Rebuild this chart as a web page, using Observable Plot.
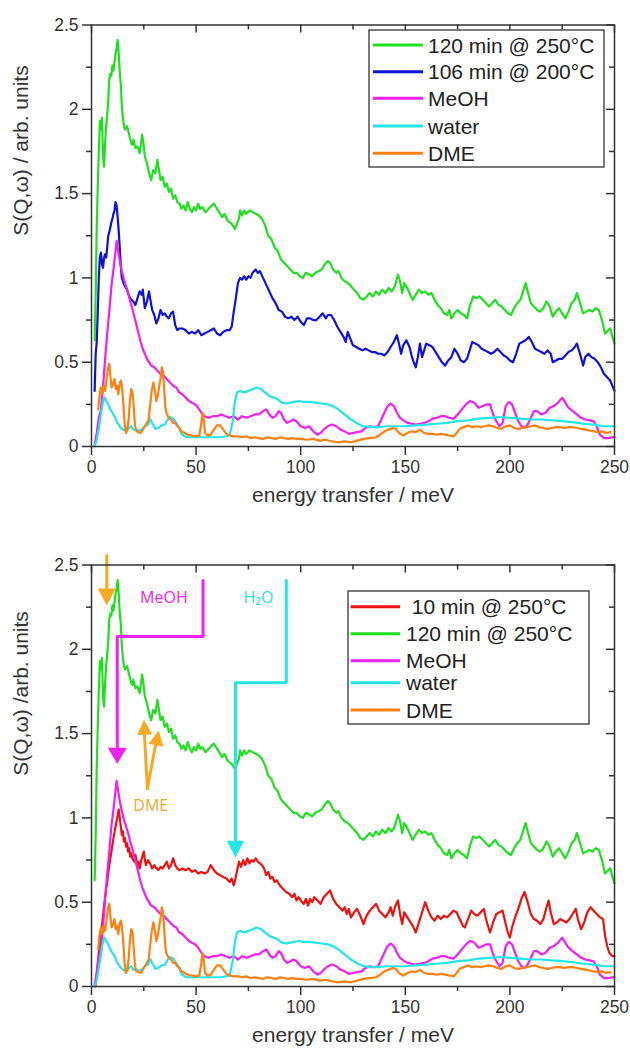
<!DOCTYPE html>
<html><head><meta charset="utf-8">
<script src="https://cdn.jsdelivr.net/npm/d3@7"></script>
<script src="https://cdn.jsdelivr.net/npm/@observablehq/plot@0.6"></script>
<style>
html,body{margin:0;padding:0;background:#fff;}
#chart svg{display:block;}
</style></head><body><div id="chart"></div>
<script>
// ---------- data: [energy transfer (meV), S(Q,w)] ----------
const green120 = [[1.5,0.63],[2,0.9],[2.5,1.3],[3,1.55],[3.5,1.75],[4,1.93],[4.5,1.88],[5,1.95],[5.5,1.72],[6,1.66],[6.5,1.8],[7,1.9],[7.5,1.97],[8,2.05],[8.5,2.18],[9,2.21],[9.5,2.2],[10,2.26],[10.5,2.23],[11,2.28],[11.5,2.33],[12,2.36],[12.5,2.41],[13,2.33],[13.5,2.22],[14,2.15],[14.5,2.02],[15,1.95],[15.5,1.9],[16,1.88],[17,1.9],[18,1.85],[19,1.8],[19.5,1.79],[20,1.82],[21,1.77],[22,1.78],[23,1.74],[23.5,1.78],[24.2,1.85],[24.8,1.8],[25.5,1.72],[26.5,1.68],[27.5,1.62],[28.5,1.58],[29.5,1.64],[30.5,1.62],[31.5,1.7],[32,1.66],[33,1.58],[34,1.6],[35,1.54],[36,1.56],[37,1.51],[38,1.53],[39,1.47],[40,1.49],[41,1.45],[42,1.44],[43,1.41],[44,1.43],[45,1.4],[46,1.45],[47,1.41],[48,1.39],[49,1.42],[50,1.4],[51,1.44],[52,1.41],[53,1.42],[54.5,1.39],[56,1.41],[57.5,1.43],[58.5,1.44],[60,1.41],[61,1.39],[62.5,1.36],[63.5,1.38],[65,1.34],[66,1.33],[67,1.32],[68.5,1.29],[69.5,1.32],[70.5,1.35],[71,1.4],[72,1.37],[73,1.4],[74,1.38],[75.5,1.4],[77,1.39],[78.5,1.38],[80,1.37],[81.5,1.35],[83,1.31],[84.5,1.25],[86,1.23],[87.5,1.18],[89,1.16],[90.5,1.11],[92,1.09],[93.5,1.07],[95,1.05],[96.5,1.03],[98,1.03],[99.5,1.01],[101,1.0],[102.5,1.03],[104,1.02],[105.5,1.01],[107,1.03],[108.5,1.04],[110,1.05],[111.5,1.08],[113,1.1],[114,1.09],[115.5,1.05],[117,1.03],[118,1.04],[119.5,1.0],[121,0.98],[122.5,0.97],[124,0.95],[125.5,0.93],[127,0.91],[128.5,0.88],[130,0.87],[131.5,0.89],[133,0.91],[134.5,0.89],[136,0.92],[137.5,0.9],[139,0.93],[140.5,0.91],[142,0.94],[143.5,0.92],[145,0.95],[146.5,1.02],[147.5,0.98],[148.5,0.91],[149.5,0.97],[150.5,0.95],[152,0.91],[153.5,0.87],[155,0.9],[156.5,0.93],[158,0.91],[159.5,0.92],[161,0.9],[162.5,0.91],[164,0.87],[165.5,0.84],[167,0.82],[168.5,0.79],[170,0.78],[171,0.81],[172,0.76],[173.5,0.79],[175,0.81],[176.5,0.79],[178,0.78],[179.5,0.76],[181,0.84],[182.5,0.89],[184,0.88],[185.5,0.89],[187,0.87],[188.5,0.85],[190,0.83],[191.5,0.85],[193,0.87],[194.5,0.84],[196,0.83],[197.5,0.81],[199,0.79],[200.5,0.78],[202,0.82],[203.5,0.85],[205,0.87],[206.5,0.93],[207.5,0.97],[208.5,0.92],[210,0.85],[211.5,0.83],[213,0.81],[214.5,0.8],[216,0.82],[217.5,0.86],[219,0.83],[220.5,0.77],[222,0.8],[223.5,0.82],[225,0.79],[226.5,0.76],[228,0.8],[229.5,0.85],[231,0.87],[232,0.91],[233.5,0.85],[235,0.79],[236.5,0.8],[238,0.81],[239.5,0.8],[241,0.82],[242.5,0.81],[244,0.75],[245.5,0.67],[247,0.69],[248,0.7],[249,0.65],[250,0.61]];

const blue106 = [[1.5,0.33],[2,0.55],[2.5,0.62],[3,0.8],[3.5,1.0],[4,1.12],[4.5,1.15],[5,1.08],[5.5,1.06],[6,1.12],[6.5,1.14],[7,1.12],[7.5,1.18],[8,1.25],[8.5,1.27],[9,1.3],[9.5,1.33],[10,1.35],[10.5,1.38],[11,1.4],[11.5,1.45],[12,1.43],[12.5,1.36],[13,1.28],[13.5,1.18],[14,1.07],[14.5,1.0],[15,0.98],[16,0.95],[17,0.93],[18,0.89],[19,0.87],[20,0.86],[21,0.84],[22,0.88],[23,0.92],[24,0.9],[24.5,0.93],[25.5,0.82],[26.5,0.86],[27.5,0.92],[28,0.88],[29,0.81],[30,0.78],[31,0.73],[32,0.76],[33,0.81],[34,0.78],[35,0.79],[36,0.77],[37,0.76],[38,0.79],[39,0.8],[40,0.72],[41,0.69],[42,0.7],[43.5,0.7],[45,0.69],[46.5,0.67],[48,0.68],[49.5,0.67],[51,0.69],[52.5,0.66],[54,0.67],[55.5,0.68],[57,0.69],[58.5,0.7],[60,0.67],[61.5,0.66],[63,0.68],[64.5,0.69],[66,0.69],[67,0.71],[68,0.8],[69,0.88],[70,0.97],[71,1.0],[72,0.99],[73,1.01],[74,0.99],[75,1.01],[76,1.0],[77,1.03],[78.5,1.05],[79.5,1.03],[80.5,1.04],[82,1.0],[83.5,0.96],[85,0.92],[86.5,0.88],[88,0.85],[89.5,0.81],[91,0.8],[92.5,0.77],[94,0.76],[95.5,0.77],[97,0.75],[98.5,0.77],[100,0.74],[101.5,0.72],[103,0.76],[104.5,0.76],[106,0.75],[107.5,0.75],[109,0.77],[110.5,0.79],[112,0.76],[113,0.78],[114.5,0.78],[116,0.75],[117.5,0.71],[119,0.68],[120.5,0.65],[121.5,0.62],[122.5,0.68],[124,0.63],[125,0.6],[126.5,0.59],[128,0.58],[129.5,0.57],[131,0.58],[132.5,0.57],[134,0.56],[135.5,0.56],[137,0.55],[138.5,0.55],[140,0.54],[141.5,0.56],[143,0.59],[144.5,0.62],[146,0.66],[147,0.61],[148,0.55],[149,0.6],[150.5,0.63],[152,0.59],[153,0.54],[154,0.5],[155,0.47],[156,0.53],[157,0.61],[158,0.53],[159,0.57],[160,0.61],[161.5,0.6],[163,0.59],[164.5,0.56],[166,0.53],[167.5,0.5],[169,0.48],[170.5,0.51],[172,0.53],[173.5,0.58],[175,0.55],[176.5,0.51],[178,0.5],[179.5,0.52],[181,0.58],[182,0.62],[183.5,0.61],[185,0.6],[186.5,0.58],[188,0.57],[189.5,0.56],[191,0.55],[192.5,0.56],[194,0.58],[195.5,0.56],[197,0.54],[198.5,0.53],[200,0.51],[201.5,0.5],[203,0.55],[204.5,0.61],[206,0.62],[207.5,0.63],[209,0.65],[210.5,0.62],[212,0.58],[213.5,0.57],[215,0.56],[216.5,0.55],[218,0.57],[219.5,0.55],[220.5,0.5],[222,0.51],[223.5,0.52],[225,0.52],[226.5,0.54],[228,0.56],[229.5,0.57],[231,0.59],[232,0.61],[233.5,0.55],[235,0.48],[236,0.53],[237.5,0.55],[239,0.53],[240.5,0.52],[242,0.5],[243.5,0.47],[245,0.43],[246.5,0.41],[248,0.39],[249,0.36],[250,0.33]];

const red10 = [[1.8,0.0],[2.5,0.08],[3.5,0.2],[4.5,0.3],[5.5,0.42],[6.5,0.53],[7.5,0.62],[8.5,0.72],[9.5,0.8],[10.5,0.88],[11.5,0.95],[12.3,1.0],[13,1.05],[13.5,1.0],[14,0.95],[14.5,0.9],[15,0.92],[15.5,0.86],[16,0.88],[16.5,0.83],[17,0.85],[17.5,0.8],[18,0.82],[18.5,0.77],[19,0.79],[19.5,0.76],[20.5,0.74],[21,0.78],[21.5,0.74],[22,0.71],[22.5,0.74],[23,0.7],[24,0.76],[25,0.8],[25.5,0.75],[26,0.72],[27,0.75],[28,0.73],[29,0.7],[30,0.72],[31,0.7],[32,0.69],[33,0.71],[34,0.7],[35,0.72],[36,0.74],[37,0.7],[38,0.72],[39,0.76],[40,0.72],[41,0.7],[42,0.69],[43.5,0.7],[45,0.69],[46.5,0.7],[48,0.68],[49.5,0.69],[51,0.67],[52.5,0.68],[54,0.67],[55.5,0.68],[57,0.72],[58.5,0.69],[60,0.67],[61.5,0.66],[63,0.65],[64.5,0.64],[66,0.62],[67,0.64],[68,0.6],[68.8,0.64],[69.5,0.68],[70.5,0.74],[71.5,0.71],[72.5,0.75],[73.5,0.72],[74.5,0.76],[75.5,0.73],[76.5,0.75],[77.5,0.74],[78.5,0.76],[79.5,0.74],[80.5,0.73],[81.5,0.72],[82.5,0.7],[83.5,0.66],[84.5,0.68],[85.5,0.64],[86.5,0.65],[87.5,0.62],[88.5,0.63],[90,0.6],[91.5,0.58],[93,0.56],[94.5,0.55],[96,0.53],[97,0.55],[98,0.51],[99,0.53],[100,0.51],[101.5,0.49],[102.5,0.52],[103.5,0.48],[104.5,0.52],[105.5,0.5],[106.5,0.53],[108,0.51],[109.5,0.49],[111,0.53],[112.5,0.55],[114,0.57],[115.5,0.52],[117,0.49],[118.5,0.47],[120,0.45],[121,0.47],[122,0.43],[123,0.46],[124,0.41],[125.5,0.44],[127,0.46],[128.5,0.42],[130,0.37],[131.5,0.42],[133,0.45],[134.5,0.47],[136,0.49],[137.5,0.45],[139,0.43],[140.5,0.41],[142,0.44],[143,0.47],[144,0.42],[145,0.47],[146.5,0.51],[147.5,0.43],[148.5,0.37],[149.5,0.44],[151,0.41],[152.5,0.38],[154,0.35],[155,0.32],[156.5,0.38],[158,0.44],[159.5,0.5],[161,0.45],[162.5,0.41],[164,0.39],[165.5,0.42],[167,0.4],[168.5,0.42],[170,0.41],[171.5,0.43],[173,0.45],[174.5,0.44],[176,0.4],[177.5,0.36],[178.5,0.35],[180,0.4],[181.5,0.45],[183,0.43],[184.5,0.42],[186,0.44],[187.5,0.46],[189,0.38],[190.5,0.32],[192,0.38],[193.5,0.43],[195,0.44],[196.5,0.45],[198,0.37],[199,0.32],[200,0.29],[201,0.35],[202.5,0.41],[204,0.46],[205.5,0.52],[207,0.56],[208.5,0.5],[210,0.43],[211.5,0.4],[213,0.39],[214.5,0.37],[216,0.4],[217.5,0.47],[218.5,0.51],[219.5,0.44],[221,0.37],[222.5,0.38],[224,0.4],[225.5,0.39],[227,0.38],[228.5,0.4],[230,0.43],[231.5,0.46],[232.5,0.4],[234,0.34],[235.5,0.38],[237,0.44],[238.5,0.47],[240,0.45],[241.5,0.43],[243,0.41],[244.5,0.4],[245.5,0.3],[246.5,0.24],[247.5,0.2],[249,0.18],[250,0.18]];

const meoh = [[1.5,0.01],[2.5,0.08],[3.5,0.17],[4.5,0.22],[5.5,0.35],[6.5,0.52],[7.5,0.67],[8.5,0.8],[9.5,0.95],[10.5,1.05],[11.5,1.16],[12,1.22],[12.5,1.18],[13.5,1.1],[14.5,1.04],[15.5,0.99],[16.5,0.95],[17.5,0.91],[18.5,0.86],[19.5,0.82],[20.5,0.77],[21.5,0.72],[22.5,0.67],[23.5,0.62],[24.5,0.58],[25.5,0.55],[26.5,0.52],[27.5,0.5],[28.5,0.48],[30,0.47],[31.5,0.45],[33,0.43],[34.5,0.42],[36,0.4],[37.5,0.38],[39,0.36],[40.5,0.35],[42,0.32],[43.5,0.31],[45,0.29],[46.5,0.27],[48,0.26],[49.5,0.25],[51,0.23],[52.5,0.2],[54,0.18],[56,0.17],[58,0.18],[60,0.18],[62,0.19],[64,0.18],[66,0.17],[68,0.18],[70,0.16],[72,0.18],[74,0.17],[76,0.18],[78,0.19],[80,0.19],[82,0.21],[83.5,0.22],[85,0.19],[86.5,0.17],[88,0.18],[89.5,0.21],[90.5,0.2],[92,0.16],[93.5,0.14],[95,0.15],[96.5,0.16],[98,0.15],[100,0.12],[102,0.11],[104,0.12],[106,0.09],[108,0.07],[109.5,0.08],[111,0.1],[113,0.12],[115,0.13],[117,0.12],[119,0.1],[121,0.09],[123,0.075],[125,0.08],[127,0.085],[129,0.09],[131,0.11],[133,0.12],[135,0.115],[137,0.12],[138.5,0.16],[140,0.2],[141.5,0.24],[143,0.255],[144.5,0.24],[146,0.2],[147.5,0.17],[149,0.155],[151,0.14],[153,0.135],[155,0.13],[157,0.135],[159,0.14],[161,0.15],[163,0.165],[165,0.17],[167,0.18],[169,0.18],[171,0.17],[173,0.165],[175,0.19],[177,0.22],[179,0.25],[181,0.27],[183,0.26],[185,0.23],[187,0.24],[189,0.25],[190.5,0.25],[192,0.19],[193.5,0.15],[195,0.12],[196.5,0.14],[198,0.24],[199.5,0.265],[201,0.25],[202.5,0.2],[204,0.15],[205.5,0.12],[207,0.11],[208.5,0.13],[210,0.17],[211.5,0.21],[213,0.21],[215,0.19],[217,0.2],[219,0.23],[221,0.24],[223,0.26],[225,0.29],[226.5,0.26],[228,0.23],[230,0.21],[232,0.19],[234,0.17],[236,0.16],[238,0.155],[240,0.15],[241.5,0.12],[243,0.07],[245,0.05],[247,0.05],[249,0.055],[250,0.055]];

const water = [[1.5,0.0],[2.5,0.04],[3.5,0.11],[4.5,0.19],[5.5,0.27],[6.2,0.29],[7,0.27],[8,0.25],[9,0.22],[10,0.2],[11,0.18],[12,0.15],[13,0.13],[14,0.11],[15,0.1],[16,0.095],[17,0.1],[18,0.11],[19,0.12],[20,0.1],[21,0.1],[22.5,0.095],[24,0.1],[25.5,0.12],[27,0.13],[28,0.165],[29,0.14],[30.5,0.105],[32,0.11],[33.5,0.125],[35,0.13],[36.5,0.16],[37.5,0.175],[38.5,0.17],[40,0.15],[41.5,0.12],[43,0.075],[44.5,0.06],[46,0.055],[50,0.055],[54,0.055],[58,0.055],[62,0.055],[66,0.065],[67.5,0.15],[68.5,0.26],[69.5,0.32],[71,0.33],[73,0.32],[75,0.33],[77,0.34],[79,0.35],[81,0.34],[83,0.32],[85,0.3],[87,0.29],[89,0.28],[91,0.26],[93,0.255],[95,0.26],[97,0.265],[99,0.27],[101,0.265],[104,0.265],[107,0.26],[110,0.255],[113,0.25],[116,0.235],[118,0.22],[120,0.2],[122,0.18],[124,0.16],[126,0.145],[128,0.13],[130,0.12],[133,0.115],[137,0.115],[141,0.12],[145,0.12],[150,0.12],[155,0.125],[160,0.13],[165,0.135],[170,0.14],[175,0.15],[180,0.155],[185,0.165],[190,0.17],[195,0.175],[200,0.17],[205,0.165],[210,0.16],[215,0.16],[220,0.155],[225,0.15],[230,0.145],[235,0.135],[240,0.13],[245,0.12],[250,0.12]];

const dme = [[3.2,0.22],[3.8,0.3],[4.5,0.35],[5,0.31],[5.8,0.36],[6.5,0.33],[7.2,0.4],[7.8,0.46],[8.5,0.49],[9,0.42],[9.6,0.35],[10.3,0.37],[11,0.4],[11.6,0.34],[12.2,0.36],[12.8,0.31],[13.4,0.37],[14,0.39],[14.6,0.35],[15.2,0.26],[15.8,0.14],[16.5,0.08],[17.2,0.1],[17.8,0.17],[18.4,0.28],[19,0.34],[19.6,0.32],[20.2,0.23],[20.8,0.12],[21.5,0.09],[22.5,0.085],[23.5,0.08],[24.5,0.1],[25.5,0.12],[26.5,0.14],[27.3,0.16],[28,0.24],[28.8,0.33],[29.6,0.38],[30.3,0.33],[31,0.27],[31.7,0.3],[32.4,0.36],[33,0.4],[33.6,0.47],[34.2,0.44],[34.8,0.33],[35.3,0.23],[36,0.19],[37,0.17],[38,0.16],[39,0.14],[40,0.14],[41,0.12],[42,0.11],[43,0.09],[44.5,0.08],[46,0.07],[48,0.065],[50,0.06],[51.5,0.065],[52.3,0.12],[53,0.2],[53.7,0.15],[54.3,0.08],[55.5,0.065],[57,0.07],[58.5,0.1],[60,0.125],[61.5,0.125],[63,0.1],[64.5,0.075],[66,0.065],[68,0.06],[70,0.06],[72,0.055],[74,0.06],[76,0.05],[78,0.055],[80,0.05],[82,0.045],[84,0.055],[86,0.05],[88,0.045],[90,0.055],[92,0.05],[94,0.045],[96,0.05],[98,0.045],[100,0.045],[103,0.04],[106,0.045],[109,0.035],[112,0.04],[115,0.03],[118,0.025],[121,0.03],[124,0.025],[127,0.035],[130,0.045],[133,0.05],[136,0.055],[138,0.07],[140,0.09],[142,0.1],[144,0.11],[145.5,0.105],[147,0.08],[149,0.065],[151,0.08],[153,0.09],[155,0.085],[157,0.1],[159,0.08],[161,0.075],[163,0.075],[165,0.07],[167,0.075],[169,0.07],[171,0.065],[173,0.06],[174.5,0.08],[176,0.105],[178,0.115],[180,0.125],[182,0.115],[184,0.12],[186,0.115],[188,0.12],[190,0.125],[192,0.12],[194,0.11],[196,0.105],[198,0.12],[200,0.125],[202,0.11],[204,0.105],[206,0.11],[208,0.115],[210,0.12],[212,0.125],[214,0.115],[216,0.11],[218,0.105],[220,0.11],[222,0.115],[224,0.115],[226,0.11],[228,0.115],[230,0.115],[232,0.11],[234,0.105],[236,0.1],[238,0.095],[240,0.09],[242,0.085],[244,0.09],[246,0.08],[248,0.085]];

// legend labels
const topLabels = ["120 min @ 250°C", "106 min @ 200°C", "MeOH", "water", "DME"];
const bottomLabels = [" 10 min @ 250°C", "120 min @ 250°C", "MeOH", "water", "DME"];

// tick values
const xMajor = [0, 50, 100, 150, 200, 250];
const xMinor = [25, 75, 125, 175, 225];
const yMajor = [0, 0.5, 1, 1.5, 2, 2.5];
const yMinor = [0.25, 0.75, 1.25, 1.75, 2.25];

// annotation geometry (data units) for the lower panel
const meohPath = [[53.3, 2.408], [53.3, 2.076], [12.3, 2.076], [12.3, 1.40]];
const meohTip = [12.3, 1.321];
const h2oPath = [[93.1, 2.408], [93.1, 1.801], [68.8, 1.801], [68.8, 0.84]];
const h2oTip = [68.8, 0.763];
const dmeTopPath = [[7.3, 2.556], [7.3, 2.33]];
const dmeTopTip = [7.3, 2.26];
const dmeUpPathA = [[26.7, 1.174], [25.3, 1.50]];
const dmeUpTipA = [25.1, 1.582];
const dmeUpPathB = [[26.7, 1.174], [30.9, 1.45]];
const dmeUpTipB = [32.2, 1.518];
const annoText = [
  {x: 34.6, y: 2.307, t: "MeOH", c: "#ee22ee"},
  {x: 79.8, y: 2.307, t: "H₂O", c: "#2fdcdc"},
  {x: 28.3, y: 1.074, t: "DME", c: "#f0a830"}
];

// ---------- styles ----------
const FONT = "'Liberation Sans', Arial, Helvetica, sans-serif";
const INK = "#333";
const C = {green: "#1fe01f", blue: "#1010d8", red: "#ee1111", meoh: "#f020f0", water: "#22e6e6", dme: "#ff8010", amber: "#f5aa22"};
const FRAME_W = 630 - 91 - 16;   // plot-area width in px
const FRAME_H = 421.5;           // plot-area height in px

const toRows = (pairs) => pairs.map(([x, y]) => ({x, y}));

function arrowHead(angleDeg, len, half) {
  const a = angleDeg * Math.PI / 180;
  const pts = [[0, 0], [-half, len], [half, len]].map(([x, y]) => [x * Math.cos(a) - y * Math.sin(a), x * Math.sin(a) + y * Math.cos(a)]);
  return {draw(ctx) { ctx.moveTo(pts[0][0], pts[0][1]); ctx.lineTo(pts[1][0], pts[1][1]); ctx.lineTo(pts[2][0], pts[2][1]); ctx.closePath(); }};
}

function panel({series, height, marginTop, yLabel, extra = []}) {
  const tickStyle = {stroke: INK, strokeWidth: 1.5};
  return Plot.plot({
    width: 630, height,
    marginLeft: 91, marginRight: 16, marginTop, marginBottom: 64,
    style: {fontFamily: FONT, fontSize: "17.5px", color: INK, background: "#fff"},
    x: {domain: [0, 250], label: null},
    y: {domain: [0, 2.5], label: null},
    marks: [
      ...series.map(s => Plot.line(toRows(s.data), {x: "x", y: "y", stroke: s.color, strokeWidth: 2.2, strokeLinejoin: "round"})),
      ...extra,
      Plot.frame({stroke: INK, strokeWidth: 1.5}),
      // outward ticks + labels (bottom / left)
      Plot.axisX({anchor: "bottom", ticks: xMajor, tickSize: 9, tickPadding: 5, tickFormat: d => String(d), label: null, ...tickStyle}),
      Plot.axisX({anchor: "bottom", ticks: xMinor, tickSize: 5, tickFormat: () => "", label: null, ...tickStyle}),
      Plot.axisY({anchor: "left", ticks: yMajor, tickSize: 9, tickPadding: 4, tickFormat: d => String(d), label: null, ...tickStyle}),
      Plot.axisY({anchor: "left", ticks: yMinor, tickSize: 5, tickFormat: () => "", label: null, ...tickStyle}),
      // inward mirror ticks (top / right)
      Plot.tickX(xMajor, {x: d => d, insetBottom: FRAME_H - 8, ...tickStyle}),
      Plot.tickX(xMinor, {x: d => d, insetBottom: FRAME_H - 5, ...tickStyle}),
      Plot.tickY(yMajor, {y: d => d, insetLeft: FRAME_W - 8, ...tickStyle}),
      Plot.tickY(yMinor, {y: d => d, insetLeft: FRAME_W - 5, ...tickStyle}),
      Plot.text(["energy transfer / meV"], {text: d => d, frameAnchor: "bottom", dy: 49, lineAnchor: "middle", fontSize: 21, fill: INK}),
      Plot.text([yLabel], {text: d => d, frameAnchor: "left", dx: -70, rotate: -90, lineAnchor: "middle", fontSize: 21, fill: INK})
    ]
  });
}

function addLegend(svg, box, entries) {
  const g = d3.select(svg).append("g").attr("font-family", FONT).attr("font-size", 21).attr("text-anchor", "start");
  g.append("rect").attr("x", box.x).attr("y", box.y).attr("width", box.w).attr("height", box.h)
    .attr("fill", "#fff").attr("stroke", INK).attr("stroke-width", 1.3);
  entries.forEach((e, i) => {
    const y = box.rows[i];
    g.append("line").attr("x1", box.lx1).attr("x2", box.lx2).attr("y1", y).attr("y2", y)
      .attr("stroke", e.color).attr("stroke-width", 3);
    g.append("text").attr("x", box.tx).attr("y", y).attr("dy", "0.36em").attr("fill", "#222")
      .attr("text-anchor", "start").style("white-space", "pre").attr("xml:space", "preserve").text(e.label);
  });
}

const chart = document.getElementById("chart");

// ---------- top panel ----------
const topSeries = [
  {data: green120, color: C.green}, {data: blue106, color: C.blue},
  {data: meoh, color: C.meoh}, {data: water, color: C.water}, {data: dme, color: C.dme}
];
const topSvg = panel({series: topSeries, height: 510, marginTop: 24.5, yLabel: "S(Q,ω) / arb. units"});
addLegend(topSvg, {x: 369, y: 30, w: 235, h: 137, lx1: 373, lx2: 423, tx: 428, rows: [45, 71.7, 98.3, 126, 153.3]},
  topSeries.map((s, i) => ({color: s.color, label: topLabels[i]})));
chart.appendChild(topSvg);

// ---------- bottom panel ----------
const bottomSeries = [
  {data: red10, color: C.red}, {data: green120, color: C.green},
  {data: meoh, color: C.meoh}, {data: water, color: C.water}, {data: dme, color: C.dme}
];
const lineXY = {x: d => d[0], y: d => d[1]};
const annotations = [
  Plot.line(meohPath, {...lineXY, stroke: C.meoh, strokeWidth: 3}),
  Plot.dot([meohTip], {...lineXY, symbol: arrowHead(180, 16, 9.5), fill: C.meoh, stroke: "none"}),
  Plot.line(h2oPath, {...lineXY, stroke: C.water, strokeWidth: 3}),
  Plot.dot([h2oTip], {...lineXY, symbol: arrowHead(180, 17, 8.5), fill: C.water, stroke: "none"}),
  Plot.line(dmeTopPath, {...lineXY, stroke: C.amber, strokeWidth: 3}),
  Plot.dot([dmeTopTip], {...lineXY, symbol: arrowHead(180, 17, 9), fill: C.amber, stroke: "none"}),
  Plot.line(dmeUpPathA, {...lineXY, stroke: C.amber, strokeWidth: 3}),
  Plot.dot([dmeUpTipA], {...lineXY, symbol: arrowHead(-2.8, 15, 7.5), fill: C.amber, stroke: "none"}),
  Plot.line(dmeUpPathB, {...lineXY, stroke: C.amber, strokeWidth: 3}),
  Plot.dot([dmeUpTipB], {...lineXY, symbol: arrowHead(11.3, 15, 7.5), fill: C.amber, stroke: "none"}),
  Plot.text(annoText, {x: "x", y: "y", text: "t", fill: d => d.c, fontFamily: "'Open Sans', 'Noto Sans', sans-serif", fontSize: 16, lineAnchor: "middle"})
];
const bottomSvg = panel({series: bottomSeries, height: 540, marginTop: 54.5, yLabel: "S(Q,ω) /arb. units", extra: annotations});
addLegend(bottomSvg, {x: 348, y: 81, w: 241, h: 133, lx1: 350.7, lx2: 400, tx: 406, rows: [96.7, 123.7, 150.7, 172.7, 200]},
  bottomSeries.map((s, i) => ({color: s.color, label: bottomLabels[i]})));
chart.appendChild(bottomSvg);
</script>
</body></html>
